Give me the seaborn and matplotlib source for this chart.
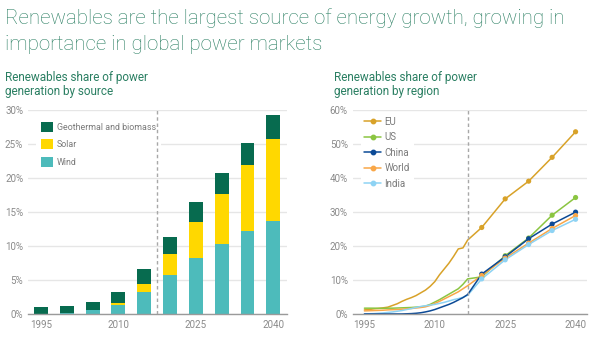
import matplotlib
matplotlib.use("Agg")
import matplotlib.pyplot as plt
from matplotlib.lines import Line2D
from matplotlib.patches import Patch
from matplotlib.ticker import FuncFormatter
import pandas as pd
import seaborn as sns

# ---- data: share of power generation by source (%) ----
bar_years = [1995, 2000, 2005, 2010, 2015, 2020, 2025, 2030, 2035, 2040]
wind = [0.05, 0.2, 0.6, 1.4, 3.3, 5.8, 8.3, 10.3, 12.2, 13.75]
solar = [0.0, 0.0, 0.05, 0.25, 1.15, 3.05, 5.3, 7.4, 9.7, 12.0]
geo_bio = [0.95, 1.07, 1.15, 1.65, 2.2, 2.5, 2.85, 3.1, 3.3, 3.45]
source_labels = ["Geothermal and biomass", "Solar", "Wind"]

# ---- data: share of power generation by region (%) ----
hist_years = list(range(1995, 2018))
proj_years = [2020, 2025, 2030, 2035, 2040]
regions = ["EU", "US", "China", "World", "India"]
eu_hist = [1.3, 1.4, 1.6, 1.75, 1.9, 2.1, 2.6, 3.1, 3.8, 4.4, 4.9, 5.5, 6.3,
           7.1, 8.2, 9.6, 11.6, 13.3, 15.0, 17.0, 19.2, 19.5, 21.8]
us_hist = [1.8, 1.8, 1.8, 1.75, 1.75, 1.8, 1.8, 1.85, 1.9, 1.95, 2.0, 2.1, 2.2,
           2.4, 2.9, 3.6, 4.3, 5.1, 5.9, 6.7, 7.5, 8.8, 10.4]
china_hist = [0.1, 0.1, 0.1, 0.1, 0.1, 0.1, 0.1, 0.1, 0.1, 0.15, 0.2, 0.3, 0.45,
              0.7, 1.0, 1.4, 1.9, 2.4, 2.9, 3.5, 4.2, 4.9, 5.8]
world_hist = [1.0, 1.05, 1.1, 1.15, 1.2, 1.3, 1.35, 1.4, 1.5, 1.6, 1.7, 1.85, 2.0,
              2.2, 2.6, 3.2, 3.8, 4.5, 5.2, 5.9, 6.6, 7.5, 8.4]
india_hist = [0.1, 0.15, 0.2, 0.3, 0.4, 0.55, 0.7, 0.9, 1.1, 1.4, 1.7, 2.0, 2.3,
              2.5, 2.7, 2.9, 3.2, 3.5, 3.9, 4.3, 4.6, 5.0, 5.6]
eu_proj = [25.5, 33.9, 39.1, 46.1, 53.6]
us_proj = [11.0, 17.2, 22.4, 29.1, 34.3]
china_proj = [11.8, 16.9, 22.2, 26.5, 30.0]
world_proj = [11.4, 16.5, 20.9, 25.2, 29.0]
india_proj = [10.4, 16.0, 20.5, 24.6, 27.9]

year_ticks = [1995, 2010, 2025, 2040]
outlook_start = 2017

# ---- style ----
sns.set_style("white")
plt.rcParams["font.family"] = ["Roboto", "DejaVu Sans"]

GREEN_TXT = "#2a7f62"
TICK_C = "#8a8a8a"
GRID_C = "#e6e6e6"
AXIS_C = "#9a9a9a"
C_GEO, C_SOLAR, C_WIND = "#076b4f", "#ffd800", "#4dbbbb"
region_colors = {"EU": "#d8a229", "US": "#8bc541", "China": "#0c4a96",
                 "World": "#f9a748", "India": "#8ed3f4"}

W, H = 600, 337
fig = plt.figure(figsize=(W / 100, H / 100), dpi=100)


def px_axes(x0, x1, y_top, y_bot):
    return fig.add_axes([x0 / W, 1 - y_bot / H, (x1 - x0) / W, (y_bot - y_top) / H])


def style_axes(ax, ymax, step):
    ax.set_ylim(0, ymax)
    ax.set_yticks(range(0, ymax + 1, step))
    ax.yaxis.set_major_formatter(FuncFormatter(lambda v, _: f"{v:.0f}%"))
    ax.yaxis.grid(True, color=GRID_C, lw=1.0)
    ax.xaxis.grid(False)
    ax.set_axisbelow(True)
    for s in ["top", "right", "left"]:
        ax.spines[s].set_visible(False)
    ax.spines["bottom"].set_color(AXIS_C)
    ax.spines["bottom"].set_linewidth(1.0)
    ax.spines["bottom"].set_zorder(4)
    ax.tick_params(axis="both", length=0, labelsize=7, labelcolor=TICK_C)
    ax.tick_params(axis="y", pad=3.5)
    ax.tick_params(axis="x", pad=4)
    ax.set_xlabel("")
    ax.set_ylabel("")


# ---- titles ----
fig.text(5 / W, 1 - 24.4 / H, "Renewables are the largest source of energy growth, growing in",
         fontsize=14.8, color=GREEN_TXT, va="baseline", ha="left", fontweight="light")
fig.text(5 / W, 1 - 50.3 / H, "importance in global power markets",
         fontsize=14.8, color=GREEN_TXT, va="baseline", ha="left", fontweight="light")
for x0, l2 in [(5, "generation by source"), (333.7, "generation by region")]:
    fig.text(x0 / W, 1 - 81.3 / H, "Renewables share of power", fontsize=8.5,
             color=GREEN_TXT, va="baseline", ha="left")
    fig.text(x0 / W, 1 - 94.8 / H, l2, fontsize=8.5,
             color=GREEN_TXT, va="baseline", ha="left")

# ---- left: stacked bars by source ----
ax1 = px_axes(28, 287, 110, 314.3)
cats = [str(y) for y in bar_years]
tot = [w + s + g for w, s, g in zip(wind, solar, geo_bio)]
ws = [w + s for w, s in zip(wind, solar)]
for vals, col in [(tot, C_GEO), (ws, C_SOLAR), (wind, C_WIND)]:
    sns.barplot(x=cats, y=vals, order=cats, color=col, saturation=1, width=0.54,
                errorbar=None, linewidth=0, ax=ax1)
style_axes(ax1, 30, 5)
ax1.set_xlim(-0.5, 9.53)
ax1.set_xticks([cats.index(str(y)) for y in year_ticks])
ax1.set_xticklabels([str(y) for y in year_ticks])
split = cats.index("2015") + 0.5
ax1.axvline(split, ymin=0, ymax=1, color="#a8a8a8", lw=1.0, ls=(0, (2.5, 2)), zorder=6)

src_handles = [Patch(facecolor=c, edgecolor="none") for c in [C_GEO, C_SOLAR, C_WIND]]
leg1 = ax1.legend(src_handles, source_labels, loc="upper left",
                  bbox_to_anchor=(36 / W, 1 - 117 / H), bbox_transform=fig.transFigure,
                  borderaxespad=0,
                  fontsize=6.4, frameon=True, facecolor="white", edgecolor="none",
                  framealpha=1, fancybox=False, borderpad=0.55, handlelength=1.38,
                  handleheight=1.38, handletextpad=0.38, labelspacing=0.82, labelcolor="#7a7a7a")

# ---- right: lines by region ----
ax2 = px_axes(352.7, 587.3, 110, 314.3)
hist = {"EU": eu_hist, "US": us_hist, "China": china_hist, "World": world_hist, "India": india_hist}
proj = {"EU": eu_proj, "US": us_proj, "China": china_proj, "World": world_proj, "India": india_proj}
rows = []
for r in regions:
    for y, v in zip(hist_years, hist[r]):
        rows.append((r, y, v, False))
    for y, v in zip(proj_years, proj[r]):
        rows.append((r, y, v, True))
df = pd.DataFrame(rows, columns=["region", "year", "share", "outlook"])
draw_order = ["EU", "US", "World", "India", "China"]
sns.lineplot(data=df, x="year", y="share", hue="region", hue_order=draw_order,
             palette=region_colors, linewidth=1.1, legend=False, ax=ax2, estimator=None)
sns.scatterplot(data=df[df["outlook"]], x="year", y="share", hue="region",
                hue_order=draw_order, palette=region_colors, s=14, linewidth=0,
                legend=False, ax=ax2, zorder=3)
style_axes(ax2, 60, 10)
ax2.set_xlim(1992.5, 2042.5)
ax2.set_xticks(year_ticks)
ax2.set_xticklabels([str(y) for y in year_ticks])
ax2.axvline(outlook_start, color="#a8a8a8", lw=1.0, ls=(0, (2.5, 2)), zorder=6)

reg_handles = [Line2D([0], [0], color=region_colors[r], lw=1.1, marker="o", markersize=3.2)
               for r in regions]
leg2 = ax2.legend(reg_handles, regions, loc="upper left",
                  bbox_to_anchor=(360.5 / W, 1 - 113 / H), bbox_transform=fig.transFigure,
                  borderaxespad=0,
                  fontsize=7, frameon=True, facecolor="white", edgecolor="none",
                  framealpha=1, fancybox=False, borderpad=0.4, handlelength=1.72,
                  handletextpad=0.34, labelspacing=0.56, labelcolor="#7a7a7a")

fig.savefig("out.png", dpi=100)
